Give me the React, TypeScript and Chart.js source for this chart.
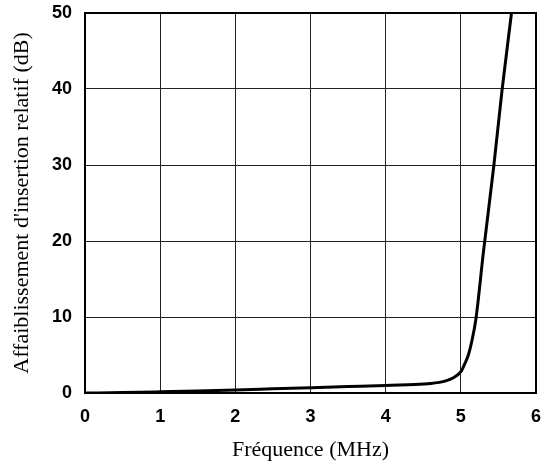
import React, { useEffect, useRef } from "react";
import { Chart, registerables } from "chart.js";

Chart.register(...registerables);

const frequencyMHz = [0, 0.5, 1, 1.5, 2, 2.5, 3, 3.5, 4, 4.3, 4.6, 4.8, 4.9, 5.0, 5.05, 5.1, 5.15, 5.2, 5.3, 5.44, 5.55, 5.674];
const attenuationDb = [0, 0.05, 0.15, 0.27, 0.4, 0.55, 0.7, 0.85, 1.0, 1.1, 1.25, 1.6, 2.0, 2.8, 3.8, 5.0, 7.0, 9.7, 18.5, 30, 40, 50];
const xTicks = [0, 1, 2, 3, 4, 5, 6];
const yTicks = [0, 10, 20, 30, 40, 50];
const xTitle = "Fréquence (MHz)";
const yTitle = "Affaiblissement d'insertion relatif (dB)";

const frame = {
  id: "frame",
  afterDraw(chart: any) {
    const { ctx, chartArea: a } = chart;
    ctx.save();
    ctx.strokeStyle = "#000";
    ctx.lineWidth = 2;
    ctx.strokeRect(a.left, a.top, a.right - a.left, a.bottom - a.top);
    ctx.restore();
  },
};

export default function App() {
  const ref = useRef<HTMLCanvasElement>(null);
  useEffect(() => {
    if (!ref.current) return;
    const tickFont = { family: "'Liberation Sans', Arial, sans-serif", size: 18, weight: "bold" as const };
    const titleFont = { family: "'Liberation Serif', 'Times New Roman', serif", size: 22, lineHeight: 1 };
    const chart = new Chart(ref.current, {
      type: "line",
      data: {
        datasets: [
          {
            data: frequencyMHz.map((x, i) => ({ x, y: attenuationDb[i] })),
            borderColor: "#000",
            borderWidth: 3,
            pointRadius: 0,
            cubicInterpolationMode: "monotone",
            fill: false,
          },
        ],
      },
      options: {
        animation: false,
        responsive: false,
        layout: { padding: { top: 13, right: 6, left: 0, bottom: 0 } },
        plugins: { legend: { display: false }, tooltip: { enabled: false } },
        scales: {
          x: {
            type: "linear",
            min: 0,
            max: 6,
            afterBuildTicks: (s: any) => { s.ticks = xTicks.map((v) => ({ value: v })); },
            afterFit: (s: any) => { s.height = 73; s.paddingLeft = 0; s.paddingRight = 0; },
            grid: { color: "#222", lineWidth: 1, drawTicks: false },
            border: { color: "#000", width: 2 },
            ticks: { color: "#000", font: tickFont, padding: 13, maxRotation: 0 },
            title: { display: true, text: xTitle, color: "#000", font: titleFont, padding: { top: 0, bottom: 5 } },
          },
          y: {
            type: "linear",
            min: 0,
            max: 50,
            afterBuildTicks: (s: any) => { s.ticks = yTicks.map((v) => ({ value: v })); },
            afterFit: (s: any) => { s.width = 85; s.paddingTop = 0; s.paddingBottom = 0; },
            grid: { color: "#222", lineWidth: 1, drawTicks: false },
            border: { color: "#000", width: 2 },
            ticks: { color: "#000", font: tickFont, padding: 13 },
            title: { display: true, text: yTitle, color: "#000", font: titleFont, padding: { top: 11, bottom: 0 } },
          },
        },
      },
      plugins: [frame],
    });
    return () => chart.destroy();
  }, []);
  return (
    <div style={{ position: "absolute", left: 0, top: 0, width: 542, height: 466, background: "#fff" }}>
      <canvas ref={ref} width={542} height={466} />
    </div>
  );
}
